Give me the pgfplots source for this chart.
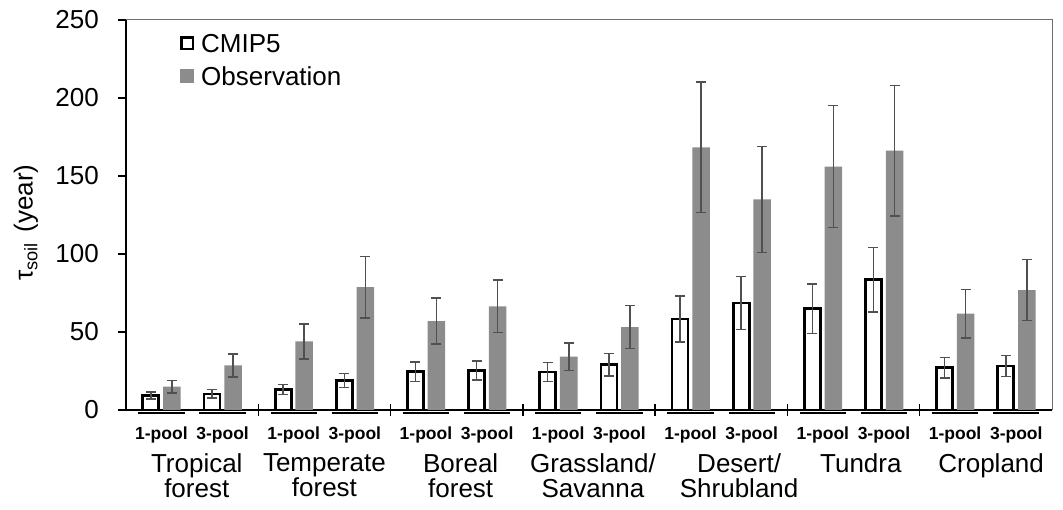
\documentclass[border=0pt]{standalone}
\usepackage{fontspec}
\setmainfont{Liberation Sans}
\usepackage{pgfplots}
\usepackage{pgfplotstable}
\pgfplotsset{compat=1.18}
\definecolor{obsgray}{RGB}{140,140,140}
\definecolor{errgray}{RGB}{80,80,80}
\definecolor{framegray}{RGB}{110,110,110}

\pgfplotstableread{
xw xg w we g ge
0.376 0.694 9.2 2.3 15.0 4.0
1.301 1.619 10.3 2.7 28.6 7.3
2.376 2.694 13.0 3.2 44.0 11.2
3.301 3.619 18.8 4.5 78.8 19.7
4.376 4.694 24.6 6.2 57.0 14.7
5.301 5.619 25.2 6.1 66.5 16.8
6.376 6.694 24.4 6.2 34.2 8.9
7.301 7.619 29.0 7.1 53.2 13.8
8.376 8.694 58.3 14.7 168.4 41.9
9.301 9.619 68.6 17.0 135.0 34.0
10.376 10.694 64.9 15.8 156.0 39.1
11.301 11.619 83.5 20.7 166.2 41.8
12.376 12.694 27.1 6.5 61.7 15.6
13.301 13.619 28.2 6.7 76.9 19.6
}\data

\begin{document}
\begin{tikzpicture}
\begin{axis}[
  at={(0pt,0pt)}, anchor=south west,
  scale only axis, width=926pt, height=390pt,
  xmin=0, xmax=14, ymin=0, ymax=250,
  axis lines=left, axis line style={-, line width=1.5pt, black},
  clip=false,
  ytick={0,50,...,250},
  tick align=outside,
  major tick length=8pt,
  minor tick length=12pt,
  y tick style={line width=1.2pt, black},
  major x tick style={draw=none},
  minor x tick style={line width=1.5pt, black, yshift=6pt},
  minor xtick={2,4,6,8,10,12},
  xtick={0.535,1.46,2.535,3.46,4.535,5.46,6.535,7.46,8.535,9.46,10.535,11.46,12.535,13.46},
  xticklabels={1-pool,3-pool,1-pool,3-pool,1-pool,3-pool,1-pool,3-pool,1-pool,3-pool,1-pool,3-pool,1-pool,3-pool},
  xticklabel style={font=\bfseries\fontsize{17.5}{17.5}\selectfont, anchor=base, yshift=-22pt},
  extra x ticks={1.07,3.0,5.06,7.06,9.27,11.11,13.08},
  extra x tick labels={Tropical\\forest,Temperate\\forest,Boreal\\forest,Grassland/\\Savanna,Desert/\\Shrubland,Tundra,Cropland},
  extra x tick style={major tick length=0pt, xticklabel style={font=\fontsize{26}{25.5}\selectfont, align=center, anchor=north, yshift=-18pt}},
  yticklabel style={font=\fontsize{26}{26}\selectfont, anchor=east, inner xsep=19pt},
  /pgf/number format/assume math mode=true,
  ylabel={τ\textsubscript{soil}\hspace{0.4em}(year)},
  ylabel style={font=\fontsize{26}{26}\selectfont, at={(axis description cs:-0.108,0.48)}, anchor=center},
  legend style={at={(axis description cs:0.055,0.975)}, anchor=north west, draw=none, fill=none,
    font=\fontsize{26}{28}\selectfont, row sep=9pt, column sep=5pt},
  legend cell align=left,
  error bars/y dir=both, error bars/y explicit,
]
\addplot[ybar, bar width=0.242, bar shift=0, fill=white, draw=black, line width=2.8pt,
  error bars/error bar style={line width=1.5pt, errgray},
  error bars/error mark options={rotate=90, mark size=5pt, line width=1.5pt, errgray},
  legend image code/.code={\draw[fill=white, draw=black, line width=2.5pt] (1.2pt,-5.3pt) rectangle (12.8pt,6.3pt);}]
  table[x=xw, y=w, y error=we]{\data};
\addplot[ybar, bar width=0.265, bar shift=0, fill=obsgray, draw=none,
  error bars/error bar style={line width=1.5pt, errgray},
  error bars/error mark options={rotate=90, mark size=5pt, line width=1.5pt, errgray},
  legend image code/.code={\fill[obsgray] (0pt,-6.5pt) rectangle (14pt,7.5pt);}]
  table[x=xg, y=g, y error=ge]{\data};
\legend{CMIP5,Observation}
\draw[framegray, line width=1pt] (rel axis cs:0,1) -- (rel axis cs:1,1) -- (rel axis cs:1,0);
\draw[line width=2pt] ([yshift=-3pt]axis cs:0.185,0) -- ([yshift=-3pt]axis cs:0.885,0);
\draw[line width=2pt] ([yshift=-3pt]axis cs:1.11,0) -- ([yshift=-3pt]axis cs:1.81,0);
\draw[line width=2pt] ([yshift=-3pt]axis cs:2.185,0) -- ([yshift=-3pt]axis cs:2.885,0);
\draw[line width=2pt] ([yshift=-3pt]axis cs:3.11,0) -- ([yshift=-3pt]axis cs:3.81,0);
\draw[line width=2pt] ([yshift=-3pt]axis cs:4.185,0) -- ([yshift=-3pt]axis cs:4.885,0);
\draw[line width=2pt] ([yshift=-3pt]axis cs:5.11,0) -- ([yshift=-3pt]axis cs:5.81,0);
\draw[line width=2pt] ([yshift=-3pt]axis cs:6.185,0) -- ([yshift=-3pt]axis cs:6.885,0);
\draw[line width=2pt] ([yshift=-3pt]axis cs:7.11,0) -- ([yshift=-3pt]axis cs:7.81,0);
\draw[line width=2pt] ([yshift=-3pt]axis cs:8.185,0) -- ([yshift=-3pt]axis cs:8.885,0);
\draw[line width=2pt] ([yshift=-3pt]axis cs:9.11,0) -- ([yshift=-3pt]axis cs:9.81,0);
\draw[line width=2pt] ([yshift=-3pt]axis cs:10.185,0) -- ([yshift=-3pt]axis cs:10.885,0);
\draw[line width=2pt] ([yshift=-3pt]axis cs:11.11,0) -- ([yshift=-3pt]axis cs:11.81,0);
\draw[line width=2pt] ([yshift=-3pt]axis cs:12.185,0) -- ([yshift=-3pt]axis cs:12.885,0);
\draw[line width=2pt] ([yshift=-3pt]axis cs:13.11,0) -- ([yshift=-3pt]axis cs:13.81,0);
\end{axis}
\pgfresetboundingbox
\path[use as bounding box] (-126pt,-100pt) rectangle (937pt,410pt);
\end{tikzpicture}
\end{document}
